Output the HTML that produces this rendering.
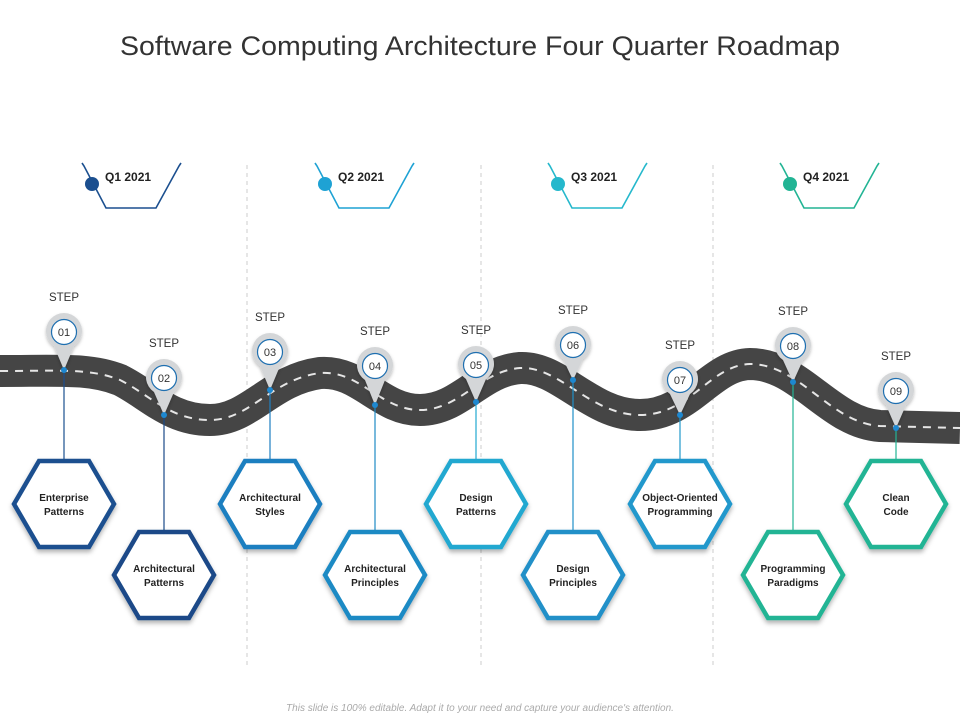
<!DOCTYPE html>
<html><head><meta charset="utf-8"><style>
body{margin:0;background:#fff;}
svg{display:block;font-family:"Liberation Sans",sans-serif;}
</style></head><body>
<svg width="960" height="720" viewBox="0 0 960 720">
<defs>
<filter id="sh" x="-20%" y="-20%" width="140%" height="150%"><feDropShadow dx="0" dy="3" stdDeviation="2.5" flood-color="#000" flood-opacity="0.3"/></filter>
<filter id="ps" x="-30%" y="-30%" width="160%" height="160%"><feDropShadow dx="0" dy="2" stdDeviation="1.5" flood-color="#000" flood-opacity="0.25"/></filter>
</defs>
<text x="480" y="55" text-anchor="middle" font-size="27" fill="#333" textLength="720" lengthAdjust="spacingAndGlyphs">Software Computing Architecture Four Quarter Roadmap</text>
<g stroke="#ccc" stroke-dasharray="4,4" stroke-width="1">
<line x1="247" y1="165" x2="247" y2="668"/><line x1="481" y1="165" x2="481" y2="668"/><line x1="713" y1="165" x2="713" y2="668"/>
</g>
<g id="quarters"></g>
<g>
<path d="M0,371 C60,371 90,368 120,380 C150,395 170,420 210,420 C250,420 270,380 320,373 C360,370 380,410 420,410 C460,410 480,371 520,368 C560,366 590,415 640,415 C690,415 710,365 750,364 C800,364 830,423 880,426 L960,428" fill="none" stroke="#454545" stroke-width="32"/>
<path d="M0,371 C60,371 90,368 120,380 C150,395 170,420 210,420 C250,420 270,380 320,373 C360,370 380,410 420,410 C460,410 480,371 520,368 C560,366 590,415 640,415 C690,415 710,365 750,364 C800,364 830,423 880,426 L960,428" fill="none" stroke="#e6e6e6" stroke-width="2" stroke-dasharray="8,7"/>
</g>
<g id="steps"></g>
<text x="480" y="711" text-anchor="middle" font-size="10" font-style="italic" fill="#aaa">This slide is 100% editable. Adapt it to your need and capture your audience's attention.</text>
</svg>
<script>
const NS="http://www.w3.org/2000/svg";
const quarterLabels=["Q1 2021","Q2 2021","Q3 2021","Q4 2021"];
const quarterX=[82,315,548,780];
const quarterColors=["#1b4f8f","#1ea2d4","#25b8cc","#22b494"];
const stepNums=["01","02","03","04","05","06","07","08","09"];
const stepX=[64,164,270,375,476,573,680,793,896];
const pinY=[332,378,352,366,365,345,380,346,391];
const roadY=[370,415,390,405,402,380,415,382,428];
const labels=[["Enterprise","Patterns"],["Architectural","Patterns"],["Architectural","Styles"],["Architectural","Principles"],["Design","Patterns"],["Design","Principles"],["Object-Oriented","Programming"],["Programming","Paradigms"],["Clean","Code"]];
const stepColors=["#1b4f8f","#1a4a88","#1e7fc0","#1e8ac4","#22a8d0","#2090c8","#2198cc","#22b494","#22b494"];
function mk(tag,attrs,parent){const e=document.createElementNS(NS,tag);for(const k in attrs)e.setAttribute(k,attrs[k]);parent.appendChild(e);return e;}
const qg=document.getElementById("quarters");
quarterLabels.forEach((q,i)=>{
 const x=quarterX[i];
 const g=mk("g",{},qg);
 
 
 const p=mk("path",{d:`M${x},163 L${x+2},166 L${x+24},208 L${x+74},208 L${x+97},166 L${x+99},163`,fill:"none",stroke:quarterColors[i],"stroke-width":1.6},g);
 
 
 const c=mk("circle",{cx:x+10,cy:184,r:7,fill:quarterColors[i]},g);
 
 
 const t=mk("text",{x:x+23,y:181,"font-size":12,"font-weight":"bold",fill:"#222"},g);
 t.textContent=q;
 
 
});
const sg=document.getElementById("steps");
stepNums.forEach((n,i)=>{
 const x=stepX[i],py=pinY[i],ry=roadY[i],col=stepColors[i];
 const top=i%2===0;const hy=top?504:575;
 const g=mk("g",{},sg);
 
 
 const ln=mk("line",{x1:x,y1:ry,x2:x,y2:hy-43,stroke:col,"stroke-width":1.2},g);
 
 
 const w=50,h=43;
 const hx=mk("polygon",{points:`${x-w},${hy} ${x-w/2},${hy-h} ${x+w/2},${hy-h} ${x+w},${hy} ${x+w/2},${hy+h} ${x-w/2},${hy+h}`,fill:"#fff",stroke:col,"stroke-width":4.5,filter:"url(#sh)"},g);
 
 
 labels[i].forEach((l,k)=>{
  const t=mk("text",{x:x,y:hy-3+k*14,"text-anchor":"middle","font-size":10,"font-weight":"bold",fill:"#222"},g);
  t.textContent=l;
  
  
 });
 const pin=mk("path",{d:`M${x-10},${py+14} A18,18 0 1 1 ${x+10},${py+14} L${x},${ry} Z`,fill:"#d4d6d8",filter:"url(#ps)"},g);
 
 
 const c=mk("circle",{cx:x,cy:py,r:12.5,fill:"#fff",stroke:"#1e6fb0","stroke-width":1.2},g);
 
 
 const nt=mk("text",{x:x,y:py+4,"text-anchor":"middle","font-size":11,fill:"#333"},g);
 nt.textContent=n;
 
 
 const dot=mk("circle",{cx:x,cy:ry,r:3,fill:"#1e88d0"},g);
 
 
 const st=mk("text",{x:x,y:py-31,"text-anchor":"middle","font-size":11.5,fill:"#333"},g);
 st.textContent="STEP";
 
 
});
</script>
</body></html>
